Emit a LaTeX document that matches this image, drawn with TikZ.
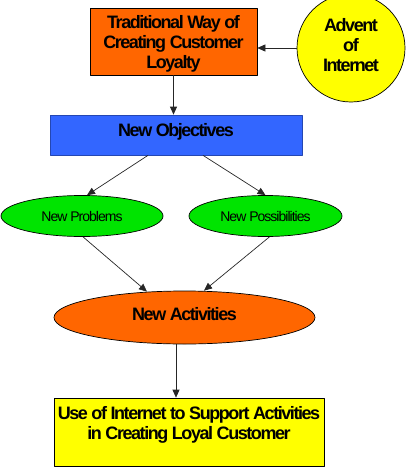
\documentclass[tikz,border=0pt]{standalone}
\usepackage{fontspec}
\setmainfont{Liberation Sans}
\newfontfamily\diagfont[LetterSpace=-8]{Liberation Sans}
\newfontfamily\smallfont[LetterSpace=-7]{Liberation Sans}
\usetikzlibrary{shapes.geometric,arrows.meta}
\definecolor{tradorange}{HTML}{FF6600}
\definecolor{objblue}{HTML}{3366FF}
\definecolor{probgreen}{HTML}{00E400}
\definecolor{netyellow}{HTML}{FFFF00}
\begin{document}
\begin{tikzpicture}[x=1pt, y=-1pt, line join=round, >={Triangle[length=8pt,width=7pt]},
	bigtext/.style={font=\diagfont\bfseries\fontsize{18}{20}\selectfont, align=center, inner sep=0pt},
	smalltext/.style={font=\smallfont\fontsize{14}{16}\selectfont, inner sep=0pt},
	boxnode/.style={draw, line width=0.7pt, bigtext},
	ellnode/.style={draw, ellipse, line width=0.7pt, inner sep=0pt},
	link/.style={->, line width=0.7pt, draw=black!85}]
	\useasboundingbox (0,0) rectangle (411,471);
	% boxes and ellipses
	\node[boxnode, fill=tradorange, minimum width=167pt, minimum height=67pt, text depth=0pt] (trad) at (173.5,41.5) {Traditional Way of\\Creating Customer\\Loyalty};
	\node[boxnode, circle, fill=netyellow, minimum size=108pt, text depth=6pt] (advent) at (351,48) {Advent\\of\\Internet};
	\node[boxnode, fill=objblue, draw=objblue!70!black, minimum width=252pt, minimum height=40pt, text depth=10pt] (objectives) at (176,135) {New Objectives};
	\node[ellnode, smalltext, fill=probgreen, minimum width=162pt, minimum height=41pt] (problems) at (82,216) {New Problems};
	\node[ellnode, smalltext, fill=probgreen, minimum width=153pt, minimum height=41pt] (possib) at (265.5,216) {New Possibilities};
	\node[ellnode, bigtext, fill=tradorange, minimum width=261pt, minimum height=53pt, text depth=8pt] (activities) at (184.5,317.5) {New Activities};
	\node[boxnode, fill=netyellow, minimum width=270pt, minimum height=68pt, text depth=18pt] (support) at (189,432) {Use of Internet to Support Activities\\in Creating Loyal Customer};
	% connectors
	\draw[link] (advent.west) -- (advent.west -| trad.east);
	\draw[link] (trad.south) -- (trad.south |- objectives.north);
	\draw[link] ([xshift=-28pt]objectives.south) -- ([xshift=5pt]problems.north);
	\draw[link] ([xshift=27pt]objectives.south) -- (possib.north);
	\draw[link] ([xshift=1pt]problems.south) -- ([xshift=-37.5pt,yshift=-1pt]activities.north);
	\draw[link] ([xshift=4pt]possib.south) -- ([xshift=19.5pt]activities.north);
	\draw[link] ([xshift=-8.5pt]activities.south) -- ([xshift=-13pt]support.north);
\end{tikzpicture}
\end{document}
